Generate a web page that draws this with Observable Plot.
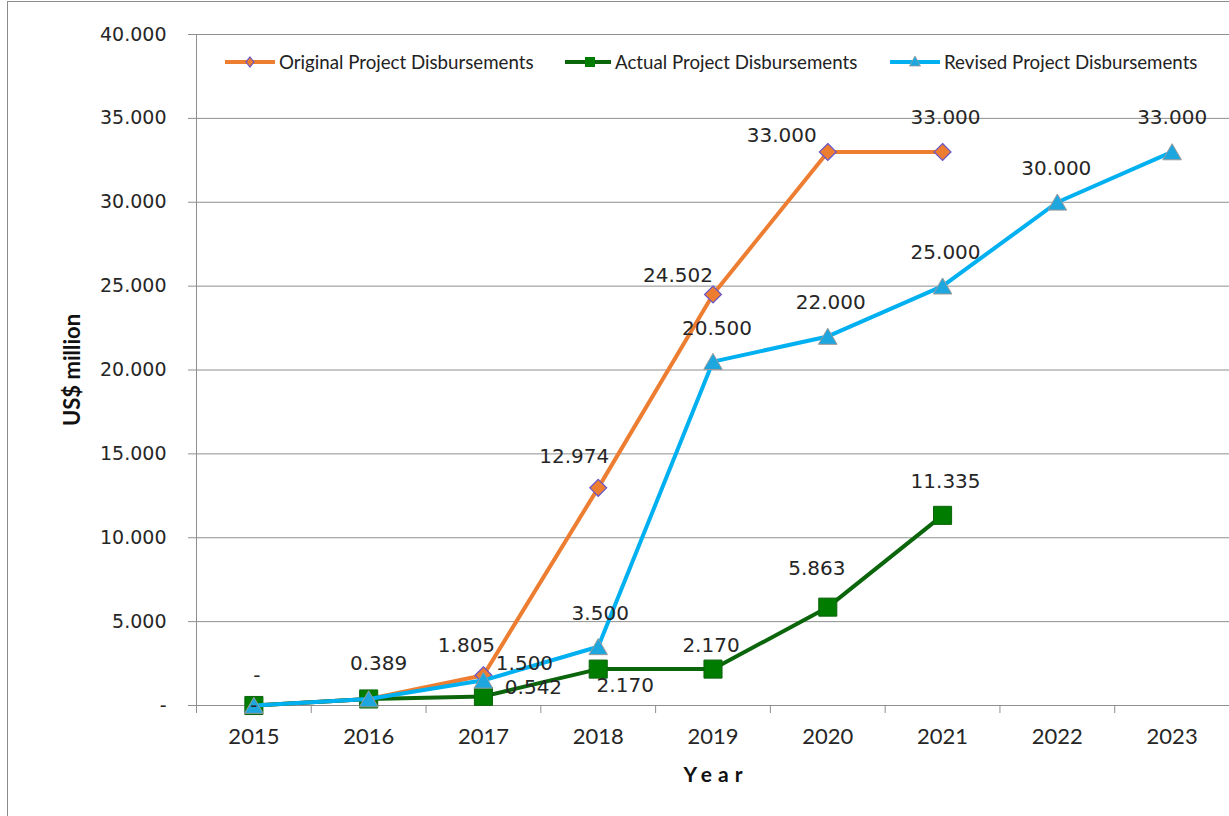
<!DOCTYPE html>
<html>
<head>
<meta charset="utf-8">
<script src="https://cdn.jsdelivr.net/npm/d3@7"></script>
<script src="https://cdn.jsdelivr.net/npm/@observablehq/plot@0.6"></script>
<style>
  html, body { margin: 0; padding: 0; background: #fff; overflow: hidden; }
  #wrap { position: relative; width: 1229px; height: 816px; overflow: hidden; }
  #frame { position: absolute; left: 7px; top: 1px; width: 1240px; height: 830px; border: 1px solid #8c8c8c; box-sizing: border-box; pointer-events: none; }
  #chart { position: absolute; left: 0; top: 0; }
  .ytitle { position: absolute; left: 71px; top: 370px; transform: translate(-50%, -50%) rotate(-90deg); font: bold 22px Lato, sans-serif; color: #111; white-space: nowrap; }
  .xtitle { position: absolute; left: 713px; top: 773px; transform: translate(-50%, -50%); font: bold 21px Lato, sans-serif; letter-spacing: 6px; color: #111; white-space: nowrap; padding-left: 6px; }
  .leg { position: absolute; top: 52px; height: 20px; display: flex; align-items: center; font: 18.7px Lato, sans-serif; color: #222; white-space: nowrap; }
  .leg svg { margin-right: 4px; }
</style>
</head>
<body>
<div id="wrap">
  <div id="chart"></div>
  <div id="frame"></div>
  <div class="ytitle">US$ million</div>
  <div class="xtitle">Year</div>
  <div id="legend"></div>
</div>
<script>
// ---- data ----
const years = [2015, 2016, 2017, 2018, 2019, 2020, 2021, 2022, 2023];
const seriesNames = ["Original Project Disbursements", "Actual Project Disbursements", "Revised Project Disbursements"];
const originalValues = [0, 0.389, 1.805, 12.974, 24.502, 33.000, 33.000];
const actualValues = [0, 0.389, 0.542, 2.170, 2.170, 5.863, 11.335];
const revisedValues = [0, 0.389, 1.500, 3.500, 20.500, 22.000, 25.000, 30.000, 33.000];
const yTicks = [0, 5, 10, 15, 20, 25, 30, 35, 40];

// ---- styles ----
const styles = {
  "Original Project Disbursements": {key: "o", line: "#ED7D31", symbol: "diamond2", r: 7.6, fill: "#ED7D31", stroke: "#6655cc", sw: 1.2, dy: 0},
  "Actual Project Disbursements":   {key: "a", line: "#0b650b", symbol: "square", r: 10.2, fill: "#007c00", stroke: "#0b650b", sw: 1, dy: 0},
  "Revised Project Disbursements":  {key: "r", line: "#00B0F0", symbol: "triangle", r: 6.9, fill: "#1ea6de", stroke: "#9a9a9a", sw: 1, dy: 2.5}
};
// label placement (offsets from point, px)
const labelPlace = {
  "o2015": [3, -30], "o2016": [10, -35], "o2017": [-17, -30], "o2018": [-24, -31], "o2019": [-35, -19], "o2020": [-46, -16], "o2021": [3, -34],
  "a2015": [0, 0], "a2017": [50, -9], "a2018": [27, 16], "a2019": [-2, -24], "a2020": [-11, -39], "a2021": [3, -34],
  "r2017": [41, -17], "r2018": [2, -33], "r2019": [4, -33], "r2020": [3, -34], "r2021": [3, -34], "r2022": [-1, -34], "r2023": [0, -34]
};

const rows = [];
[originalValues, actualValues, revisedValues].forEach((vals, i) => {
  vals.forEach((v, j) => rows.push({series: seriesNames[i], year: years[j], value: v}));
});

const fmt = v => v === 0 ? "-" : d3.format(",.3f")(v);
const halfYears = d3.range(years[0] - 0.5, years[years.length - 1] + 1, 1);
const labelFont = "'DejaVu Sans', Verdana, sans-serif";

const marks = [
  Plot.ruleY(yTicks, {stroke: "#8f8f8f", strokeWidth: 1}),
  Plot.ruleX([halfYears[0]], {stroke: "#8f8f8f", strokeWidth: 1}),
  Plot.axisY({ticks: yTicks, tickSize: 8, tickPadding: 22, tickFormat: fmt, fontSize: 19, fontFamily: labelFont, color: "#262626", stroke: "#8f8f8f"}),
  Plot.axisX({ticks: halfYears, tickSize: 8, tickFormat: () => "", stroke: "#8f8f8f"}),
  Plot.axisX({ticks: years, tickSize: 0, tickPadding: 23, tickFormat: d => String(d), fontSize: 22, fontFamily: "Lato, sans-serif", color: "#262626"})
];

seriesNames.forEach(name => {
  const s = styles[name];
  const data = rows.filter(d => d.series === name);
  marks.push(Plot.line(data, {x: "year", y: "value", stroke: s.line, strokeWidth: 4, strokeLinejoin: "round"}));
  marks.push(Plot.dot(data, {x: "year", y: "value", symbol: s.symbol, r: s.r, fill: s.fill, stroke: s.stroke, strokeWidth: s.sw, dy: s.dy}));
});

rows.forEach(d => {
  const k = styles[d.series].key + d.year;
  const p = labelPlace[k];
  if (!p) return;
  marks.push(Plot.text([d], {x: "year", y: "value", text: r => fmt(r.value), dx: p[0], dy: p[1], fontSize: 20, fontFamily: labelFont, fill: "#262626"}));
});

const chart = Plot.plot({
  width: 1229,
  height: 816,
  marginLeft: 196,
  marginRight: 0,
  marginTop: 34,
  marginBottom: 111,
  style: {background: "transparent", overflow: "visible"},
  x: {type: "linear", domain: [halfYears[0], halfYears[halfYears.length - 1]], label: null},
  y: {domain: [0, 40], label: null},
  marks
});
document.getElementById("chart").appendChild(chart);

// ---- legend ----
const legendLeft = {"Original Project Disbursements": 225, "Actual Project Disbursements": 565, "Revised Project Disbursements": 890};
const legend = document.getElementById("legend");
seriesNames.forEach(name => {
  const s = styles[name];
  const item = document.createElement("div");
  item.className = "leg";
  item.style.left = legendLeft[name] + "px";
  let sym = "";
  if (s.symbol === "diamond2") sym = `<path d="M25,5 L29,10 L25,15 L21,10 Z" fill="${s.fill}" stroke="${s.stroke}" stroke-width="1.2"/>`;
  else if (s.symbol === "square") sym = `<rect x="20" y="5" width="10" height="10" fill="${s.fill}"/>`;
  else sym = `<path d="M25,4 L30.5,14 L19.5,14 Z" fill="${s.fill}" stroke="${s.stroke}" stroke-width="0.8"/>`;
  const w = name.startsWith("Actual") ? 46 : 50;
  item.innerHTML = `<svg width="${w}" height="20" viewBox="0 0 ${w} 20"><line x1="0" x2="${w}" y1="10" y2="10" stroke="${s.line}" stroke-width="4"/>${sym.replace(/25/g, String(w/2))}</svg><span>${name}</span>`;
  legend.appendChild(item);
});
</script>
</body>
</html>
